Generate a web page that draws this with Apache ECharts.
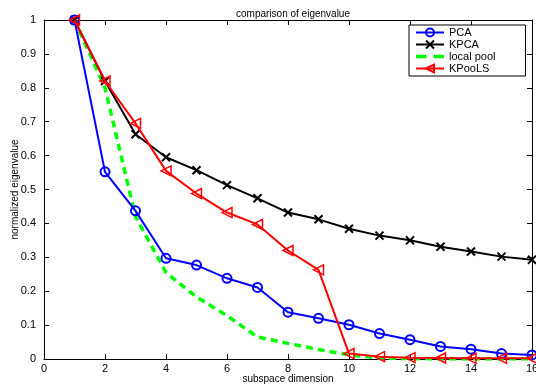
<!DOCTYPE html>
<html>
<head>
<meta charset="utf-8">
<script src="https://cdn.jsdelivr.net/npm/echarts@6/dist/echarts.min.js"></script>
<style>
  html, body { margin: 0; padding: 0; background: #fff; }
  #chart { width: 536px; height: 386px; }
</style>
</head>
<body>
<div id="chart"></div>
<script>
const dims = [1, 2, 3, 4, 5, 6, 7, 8, 9, 10, 11, 12, 13, 14, 15, 16];
const pca = [1, 0.552, 0.437, 0.297, 0.277, 0.238, 0.211, 0.138, 0.12, 0.101, 0.075, 0.057, 0.037, 0.029, 0.016, 0.012];
const kpca = [1, 0.82, 0.663, 0.595, 0.557, 0.513, 0.474, 0.432, 0.412, 0.384, 0.364, 0.35, 0.331, 0.317, 0.302, 0.293];
const localPool = [1, 0.8, 0.42, 0.255, 0.183, 0.128, 0.065, 0.046, 0.028, 0.012, 0.003, 0.001, 0, 0, 0, 0];
const kpools = [1, 0.82, 0.695, 0.555, 0.488, 0.432, 0.397, 0.32, 0.263, 0.016, 0.007, 0.004, 0.003, 0.002, 0.002, 0.002];

const pairs = vals => dims.map((d, i) => [d, vals[i]]);
const font = 'Liberation Sans, Arial, sans-serif';

const chart = echarts.init(document.getElementById('chart'));

// shared look for the four sides of the box
const boxAxis = {
  axisLine: { show: true, onZero: false, lineStyle: { color: '#000', width: 1 } },
  axisTick: { show: true, inside: true, length: 5, lineStyle: { color: '#000' } },
  splitLine: { show: false }
};

chart.setOption({
  animation: false,
  backgroundColor: '#fff',
  title: {
    text: 'comparison of eigenvalue',
    left: 288, top: 4, textAlign: 'center',
    textStyle: { fontFamily: font, fontSize: 10, fontWeight: 'normal', color: '#000' }
  },
  legend: {
    orient: 'vertical',
    left: 409, top: 25,
    padding: [2, 30, 2, 6],
    itemGap: 1,
    itemWidth: 28, itemHeight: 10,
    borderColor: '#000', borderWidth: 1,
    backgroundColor: '#fff',
    textStyle: { fontFamily: font, fontSize: 11, color: '#000' },
    data: ['PCA', 'KPCA',
      { name: 'local pool', icon: 'path://M0,4h9v3h-9zM15,4h9v3h-9z' },
      'KPooLS']
  },
  grid: { left: 44, right: 4, top: 20, bottom: 27, containLabel: false, outerBoundsMode: 'none' },
  xAxis: [
    Object.assign({}, boxAxis, {
      type: 'value', min: 0, max: 16, interval: 2, position: 'bottom',
      name: 'subspace dimension', nameLocation: 'middle', nameGap: 15, nameMoveOverlap: false,
      nameTextStyle: { fontFamily: font, fontSize: 10, color: '#000' },
      axisLabel: { fontFamily: font, fontSize: 11, color: '#000', margin: 4 }
    }),
    Object.assign({}, boxAxis, {
      type: 'value', min: 0, max: 16, interval: 2, position: 'top',
      axisLabel: { show: false }
    })
  ],
  yAxis: [
    Object.assign({}, boxAxis, {
      type: 'value', min: 0, max: 1, interval: 0.1, position: 'left',
      name: 'normalized eigenvalue', nameLocation: 'middle', nameGap: 24, nameMoveOverlap: false,
      nameTextStyle: { fontFamily: font, fontSize: 10, color: '#000' },
      axisLabel: { fontFamily: font, fontSize: 11, color: '#000', margin: 8 }
    }),
    Object.assign({}, boxAxis, {
      type: 'value', min: 0, max: 1, interval: 0.1, position: 'right',
      axisLabel: { show: false }
    })
  ],
  series: [
    {
      name: 'PCA', type: 'line', data: pairs(pca),
      symbol: 'circle', symbolSize: 9,
      lineStyle: { color: '#0000ff', width: 2 },
      itemStyle: { color: 'rgba(0,0,0,0)', borderColor: '#0000ff', borderWidth: 2 },
      z: 3
    },
    {
      name: 'KPCA', type: 'line', data: pairs(kpca),
      symbol: 'path://M0,0L10,10M10,0L0,10', symbolSize: 8,
      lineStyle: { color: '#000', width: 2 },
      itemStyle: { color: 'rgba(0,0,0,0)', borderColor: '#000', borderWidth: 2 },
      z: 2
    },
    {
      name: 'local pool', type: 'line', data: pairs(localPool),
      symbol: 'none', showSymbol: false,
      lineStyle: { color: '#00ff00', width: 3.5, type: [7, 5] },
      itemStyle: { color: '#00ff00' },
      z: 1
    },
    {
      name: 'KPooLS', type: 'line', data: pairs(kpools),
      symbol: 'path://M0,5L10,0L10,10Z', symbolSize: 10,
      lineStyle: { color: '#ff0000', width: 2 },
      itemStyle: { color: 'rgba(0,0,0,0)', borderColor: '#ff0000', borderWidth: 1.5 },
      z: 4
    }
  ]
});
</script>
</body>
</html>
